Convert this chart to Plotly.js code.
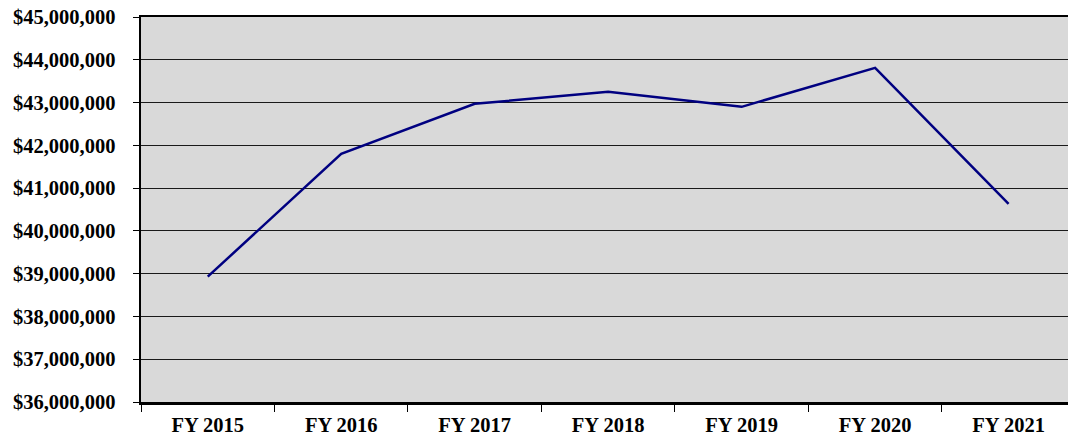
<!DOCTYPE html>
<html>
<head>
<meta charset="utf-8">
<script src="https://cdn.plot.ly/plotly-3.0.1.min.js"></script>
<style>
html,body{margin:0;padding:0;background:#fff;}
#chart{width:1068px;height:438px;}
</style>
</head>
<body>
<div id="chart"></div>
<script>
const categories = ["FY 2015","FY 2016","FY 2017","FY 2018","FY 2019","FY 2020","FY 2021"];
const amounts = [38930000, 41800000, 42970000, 43250000, 42900000, 43810000, 40630000];

const trace = {
  x: categories,
  y: amounts,
  type: 'scatter',
  mode: 'lines',
  line: {color: '#000080', width: 2.5},
  hoverinfo: 'skip'
};

const layout = {
  width: 1068,
  height: 438,
  margin: {l: 141, r: 0, t: 17, b: 36},
  paper_bgcolor: '#ffffff',
  plot_bgcolor: '#d9d9d9',
  showlegend: false,
  font: {family: '"Liberation Serif", "Times New Roman", serif', color: '#000'},
  xaxis: {
    type: 'category',
    range: [-0.5, 6.445],
    tickson: 'boundaries',
    ticks: 'outside',
    ticklen: 7,
    tickcolor: '#000',
    tickwidth: 1,
    showline: true,
    linecolor: '#000',
    linewidth: 2.5,
    mirror: true,
    showgrid: false,
    zeroline: false,
    ticklabelstandoff: 3,
    tickfont: {size: 20.5, family: '"Liberation Serif", serif', weight: 'bold', color: '#000'},
    fixedrange: true
  },
  yaxis: {
    range: [36000000, 45000000],
    dtick: 1000000,
    tick0: 36000000,
    tickprefix: '$',
    tickformat: ',d',
    ticks: 'outside',
    ticklen: 6,
    tickcolor: '#000',
    tickwidth: 1,
    showline: true,
    linecolor: '#000',
    linewidth: 2.5,
    showgrid: true,
    gridcolor: '#1a1a1a',
    gridwidth: 1,
    zeroline: false,
    ticklabelstandoff: 13,
    tickfont: {size: 20.5, family: '"Liberation Serif", serif', weight: 'bold', color: '#000'},
    fixedrange: true
  }
};

Plotly.newPlot('chart', [trace], layout, {displayModeBar: false, staticPlot: true});
</script>
</body>
</html>
